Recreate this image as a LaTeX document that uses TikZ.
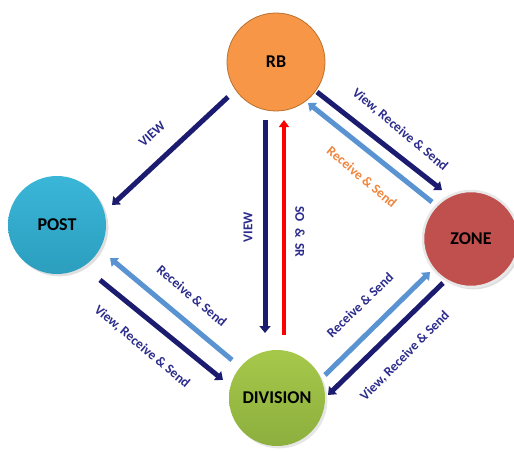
\documentclass[tikz,border=0pt]{standalone}
\usepackage{fontspec}
\setmainfont{Carlito}
\usetikzlibrary{arrows.meta,shadows}
\definecolor{navyA}{HTML}{1B1B70}
\definecolor{navyT}{HTML}{2C2C8C}
\definecolor{lightA}{HTML}{5A93D2}
\definecolor{rbfill}{HTML}{F79646}
\definecolor{rbdraw}{HTML}{B9712F}
\definecolor{zonefill}{HTML}{C0504D}
\definecolor{orangeT}{HTML}{F0843C}
\tikzset{
  ent/.style={circle, minimum size=98pt, inner sep=0pt, font=\fontsize{18}{20}\selectfont\bfseries, text=black},
  darkarrow/.style={draw=navyA, line width=5pt, -{Triangle[width=11pt,length=7pt]}},
  lightarrow/.style={draw=lightA, line width=5pt, -{Triangle[width=11pt,length=7pt]}},
  redarrow/.style={draw=red, line width=4pt, -{Triangle[width=10pt,length=7pt]}},
  lbl/.style={font=\fontsize{13.5}{15}\selectfont\bfseries, text=navyT, inner sep=0pt},
}
\begin{document}
\begin{tikzpicture}[x=1pt,y=-1pt]
\useasboundingbox (0,0) rectangle (514,452);
% nodes
\node[ent, fill=rbfill, draw=rbdraw, line width=0.8pt] (RB) at (276,62) {RB};
\node[ent, top color={rgb,255:red,58;green,182;blue,216}, bottom color={rgb,255:red,44;green,158;blue,190}, drop shadow={opacity=0.25}] (POST) at (57,225) {POST};
\node[ent, minimum size=96pt, fill=zonefill, draw={rgb,255:red,232;green,232;blue,232}, line width=2.5pt, drop shadow={opacity=0.25}] (ZONE) at (471,239) {ZONE};
\node[ent, minimum size=96pt, top color={rgb,255:red,166;green,200;blue,74}, bottom color={rgb,255:red,140;green,175;blue,62}, drop shadow={opacity=0.2}] (DIV) at (277,398) {DIVISION};
% connector end points
\coordinate (a1s) at (228,97);  \coordinate (a1e) at (112,205);
\coordinate (a2s) at (265,120); \coordinate (a2e) at (265,333);
\coordinate (a3s) at (284,335); \coordinate (a3e) at (284,120);
\coordinate (a4s) at (317,92);  \coordinate (a4e) at (442,190);
\coordinate (a5s) at (432,202); \coordinate (a5e) at (308,103);
\coordinate (a6s) at (232,360); \coordinate (a6e) at (110,258);
\coordinate (a7s) at (100,280); \coordinate (a7e) at (223,380);
\coordinate (a8s) at (325,375); \coordinate (a8e) at (430,272);
\coordinate (a9s) at (443,283); \coordinate (a9e) at (328,395);
% connectors
\draw[darkarrow] (a1s) -- (a1e);
\draw[darkarrow] (a2s) -- (a2e);
\draw[redarrow] (a3s) -- (a3e);
\draw[darkarrow] (a4s) -- (a4e);
\draw[lightarrow] (a5s) -- (a5e);
\draw[lightarrow] (a6s) -- (a6e);
\draw[darkarrow] (a7s) -- (a7e);
\draw[lightarrow] (a8s) -- (a8e);
\draw[darkarrow] (a9s) -- (a9e);
% labels
\node[lbl, rotate=42] (l1) at (152,134) {VIEW};
\node[lbl, rotate=90] (l2) at (248,227) {VIEW};
\node[lbl, rotate=-90] (l3) at (300,232) {SO\hspace{6pt}\&\hspace{6pt}SR};
\node[lbl, rotate=-40] (l4) at (400,130) {View, Receive \& Send};
\node[lbl, rotate=-40, text=orangeT] (l5) at (362,177) {Receive \& Send};
\node[lbl, rotate=-40] (l6) at (192,296) {Receive \& Send};
\node[lbl, rotate=-40] (l7) at (142,347) {View, Receive \& Send};
\node[lbl, rotate=44] (l8) at (360,305) {Receive \& Send};
\node[lbl, rotate=45] (l9) at (405,356) {View, Receive \& Send};
\end{tikzpicture}
\end{document}
